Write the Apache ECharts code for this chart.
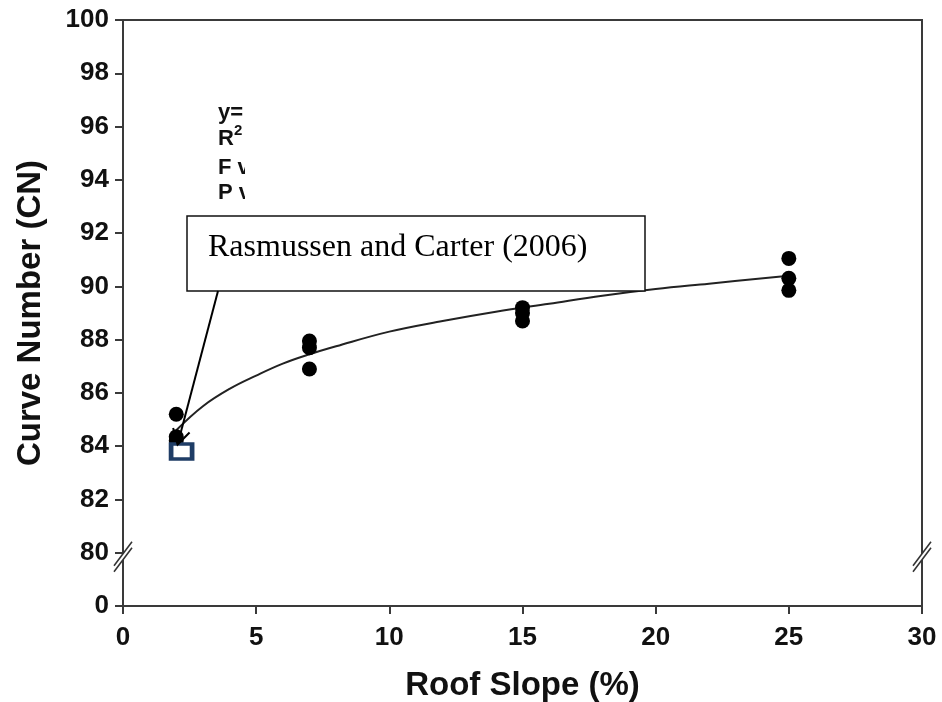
<!DOCTYPE html>
<html><head><meta charset="utf-8">
<script src="https://cdn.jsdelivr.net/npm/echarts@6/dist/echarts.min.js"></script>
<style>html,body{margin:0;padding:0;background:#fff}#c{width:942px;height:702px}</style>
</head><body><div id="c"></div>
<script>
// ---- data ----
const slopeX = [2, 2, 2, 7, 7, 7, 15, 15, 15, 25, 25, 25];
const cnY    = [85.2, 84.35, 84.2, 87.95, 87.7, 86.9, 89.2, 89.0, 88.7, 91.05, 90.3, 89.85];
const fitX = [2, 3, 4, 5, 6, 7, 8, 10, 12, 14, 16, 18, 20, 22, 25];
const fitY = [84.6, 85.5, 86.15, 86.65, 87.1, 87.45, 87.75, 88.3, 88.7, 89.05, 89.35, 89.65, 89.9, 90.1, 90.4];
const refX = [2.2];
const refY = [83.8];
const yAxisBottom = 78;          // position drawn as "0" below the axis break
const yBreakAt = 79.85;          // where the // marks sit
const xTitle = 'Roof Slope (%)';
const yTitle = 'Curve Number (CN)';
const annotation = 'Rasmussen and Carter (2006)';
const eqLines = ['y=', 'R{s|2}', 'F v', 'P v'];

const SANS = "'Liberation Sans', Arial, sans-serif";
const SERIF = "'Liberation Serif', 'Times New Roman', serif";
const AX = '#3a3a3a';

const chart = echarts.init(document.getElementById('c'), null, {renderer: 'canvas'});
const option = {
  animation: false,
  backgroundColor: '#fff',
  grid: {left: 123, right: 20, top: 20, bottom: 96, show: true, borderColor: AX, borderWidth: 2, backgroundColor: 'transparent',
         containLabel: false, outerBoundsMode: 'none'},
  xAxis: {
    type: 'value', min: 0, max: 30, interval: 5,
    axisLine: {show: true, onZero: false, lineStyle: {color: AX, width: 2}},
    axisTick: {show: true, inside: false, length: 8, lineStyle: {color: AX, width: 2}},
    axisLabel: {fontFamily: SANS, fontWeight: 'bold', fontSize: 26, color: '#111', margin: 19},
    splitLine: {show: false},
    name: xTitle, nameLocation: 'middle', nameGap: 63,
    nameTextStyle: {fontFamily: SANS, fontWeight: 'bold', fontSize: 33, color: '#111'}
  },
  yAxis: {
    type: 'value', min: yAxisBottom, max: 100, interval: 2,
    axisLine: {show: true, onZero: false, lineStyle: {color: AX, width: 2}},
    axisTick: {show: true, inside: false, length: 8, lineStyle: {color: AX, width: 2}},
    axisLabel: {fontFamily: SANS, fontWeight: 'bold', fontSize: 26, color: '#111', margin: 14,
      formatter: v => (v === yAxisBottom ? '0' : String(v))},
    splitLine: {show: false},
    name: yTitle, nameLocation: 'middle', nameGap: 76, nameRotate: 90,
    nameTextStyle: {fontFamily: SANS, fontWeight: 'bold', fontSize: 33, color: '#111'}
  },
  series: [
    {type: 'line', data: fitX.map((x, i) => [x, fitY[i]]), smooth: 0.4, showSymbol: false,
     lineStyle: {color: '#222', width: 2, opacity: 1}, z: 2, silent: true},
    {type: 'scatter', data: slopeX.map((x, i) => [x, cnY[i]]), symbolSize: 15, itemStyle: {color: '#000', opacity: 1}, z: 3},
    {type: 'scatter', data: refX.map((x, i) => [x, refY[i]]), symbol: 'rect', symbolSize: [21, 15],
     itemStyle: {color: '#fff', borderColor: '#1f3d66', borderWidth: 4, opacity: 1}, z: 6}
  ]
};
chart.setOption(option);

const px = (x, y) => chart.convertToPixel({gridIndex: 0}, [x, y]);
const gfx = [];
function breakMark(cx, cy) {
  const dx = 9, dy = 12, off = 3;
  gfx.push({type: 'polygon', z: 100, shape: {points: [[cx - dx, cy + dy - off], [cx + dx, cy - dy - off], [cx + dx, cy - dy + off], [cx - dx, cy + dy + off]]}, style: {fill: '#fff'}});
  gfx.push({type: 'line', z: 101, shape: {x1: cx - dx, y1: cy + dy - off, x2: cx + dx, y2: cy - dy - off}, style: {stroke: '#333', lineWidth: 1.5}});
  gfx.push({type: 'line', z: 101, shape: {x1: cx - dx, y1: cy + dy + off, x2: cx + dx, y2: cy - dy + off}, style: {stroke: '#333', lineWidth: 1.5}});
}
const bl = px(0, yBreakAt), br = px(30, yBreakAt);
breakMark(bl[0], bl[1]);
breakMark(br[0], br[1]);

// equation text (clipped in the reference)
const eqY = [113, 139, 168, 193];
eqLines.forEach((t, i) => {
  gfx.push({type: 'text', z: 50, x: 218, y: eqY[i], style: {text: t, fill: '#111', font: 'bold 22px ' + SANS, verticalAlign: 'middle',
    rich: {s: {fontSize: 15, fontWeight: 'bold', fontFamily: SANS, verticalAlign: 'top', padding: [0, 0, 16, 0]}}}});
});
gfx.push({type: 'rect', z: 51, shape: {x: 245, y: 95, width: 60, height: 112}, style: {fill: '#fff'}});

// annotation box
const box = {x: 187, y: 216, w: 458, h: 75};
gfx.push({type: 'rect', z: 60, shape: {x: box.x, y: box.y, width: box.w, height: box.h}, style: {fill: '#fff', stroke: '#111', lineWidth: 1.5}});
gfx.push({type: 'text', z: 61, x: 208, y: 248, style: {text: annotation, fill: '#000', font: '32px ' + SERIF, verticalAlign: 'middle'}});

// arrow to the reference point
const rp = px(refX[0], refY[0]);
const tip = [rp[0] - 4, rp[1] - 7];
const start = [218, box.y + box.h];
const vx = tip[0] - start[0], vy = tip[1] - start[1];
const L = Math.hypot(vx, vy), ux = vx / L, uy = vy / L;
const ah = 17, ang = Math.PI / 6;
const rot = (a) => [ux * Math.cos(a) - uy * Math.sin(a), ux * Math.sin(a) + uy * Math.cos(a)];
const r1 = rot(ang), r2 = rot(-ang);
gfx.push({type: 'line', z: 62, shape: {x1: start[0], y1: start[1], x2: tip[0], y2: tip[1]}, style: {stroke: '#000', lineWidth: 2}});
gfx.push({type: 'polyline', z: 62, shape: {points: [[tip[0] - r1[0] * ah, tip[1] - r1[1] * ah], tip, [tip[0] - r2[0] * ah, tip[1] - r2[1] * ah]]}, style: {stroke: '#000', lineWidth: 2, fill: null}});

chart.setOption({graphic: {elements: gfx}});
</script>
</body></html>
